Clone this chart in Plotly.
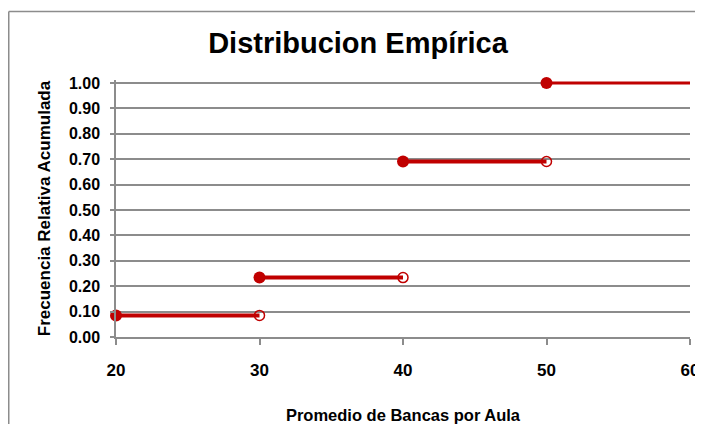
import plotly.graph_objects as go

# Data
x_starts = [20, 30, 40, 50]
x_ends = [30, 40, 50, 60]
cum_freq = [0.085, 0.234, 0.691, 1.00]
open_end = [True, True, True, False]
y_ticks = [0.0, 0.1, 0.2, 0.3, 0.4, 0.5, 0.6, 0.7, 0.8, 0.9, 1.0]
x_ticks = [20, 30, 40, 50, 60]

RED = "#C00000"
FONT = "Liberation Sans, Arial, sans-serif"
Y_TOP = 1.012

fig = go.Figure()
for xs, xe, y, op in zip(x_starts, x_ends, cum_freq, open_end):
    fig.add_trace(go.Scatter(
        x=[xs, xe], y=[y, y], mode="lines",
        line=dict(color=RED, width=4 if op else 3),
        showlegend=False, cliponaxis=False, hoverinfo="skip"))
    fig.add_trace(go.Scatter(
        x=[xs], y=[y], mode="markers",
        marker=dict(color=RED, size=12, symbol="circle"),
        showlegend=False, cliponaxis=False))
    if op:
        fig.add_trace(go.Scatter(
            x=[xe], y=[y], mode="markers",
            marker=dict(color=RED, size=10, symbol="circle-open",
                        line=dict(color=RED, width=1.5)),
            showlegend=False, cliponaxis=False))

# page body has an 8px margin; figure is sized to fit the window without scrolling
W, H = 695, 416
L, R, T, B = 108, 13, 72, 87
pw, ph = W - L - R, H - T - B

def px_to_paper_x(px):
    return (px - L) / pw

def px_to_paper_y(py):
    return (H - B - py) / ph

# Chart frame (top & left edges visible)
frame = dict(color="#8c8c8c", width=1.5)
fig.add_shape(type="line", xref="paper", yref="paper",
              x0=px_to_paper_x(0.75), x1=px_to_paper_x(700),
              y0=px_to_paper_y(3.5), y1=px_to_paper_y(3.5), line=frame, layer="below")
fig.add_shape(type="line", xref="paper", yref="paper",
              x0=px_to_paper_x(0.75), x1=px_to_paper_x(0.75),
              y0=px_to_paper_y(3.5), y1=px_to_paper_y(430), line=frame, layer="below")

fig.update_layout(
    width=W, height=H,
    margin=dict(l=L, r=R, t=T, b=B, autoexpand=False),
    paper_bgcolor="white", plot_bgcolor="white",
    title=dict(text="<b>Distribucion Empírica</b>", x=350 / W, xanchor="center",
               y=1 - 35 / H, yanchor="middle",
               font=dict(family=FONT, size=29, color="black")),
    font=dict(family=FONT, color="black"),
    xaxis=dict(range=[20, 60], tickvals=x_ticks, ticktext=[f"<b>{v}</b>" for v in x_ticks],
               showgrid=False, zeroline=False, showline=True, linecolor="#8c8c8c", linewidth=1.5,
               ticks="outside", ticklen=6, tickcolor="#8c8c8c", tickwidth=1.5,
               tickfont=dict(size=17, family=FONT), ticklabelstandoff=11, automargin=False,
               ticklabeloverflow="allow",
               title=dict(text="<b>Promedio de Bancas por Aula</b>",
                          font=dict(size=16.5, family=FONT), standoff=30)),
    yaxis=dict(range=[0, Y_TOP], tickvals=y_ticks, ticktext=[f"<b>{v:.2f}</b>" for v in y_ticks],
               showgrid=True, gridcolor="#8c8c8c", gridwidth=1.5, zeroline=False,
               showline=True, linecolor="#8c8c8c", linewidth=1.5,
               ticks="outside", ticklen=4, tickcolor="#8c8c8c", tickwidth=1.5,
               tickfont=dict(size=16, family=FONT), ticklabelstandoff=7, automargin=False,
               ticklabeloverflow="allow",
               title=dict(text="<b>Frecuencia Relativa Acumulada</b>",
                          font=dict(size=17, family=FONT), standoff=14)),
)

fig.write_html("out.html")
